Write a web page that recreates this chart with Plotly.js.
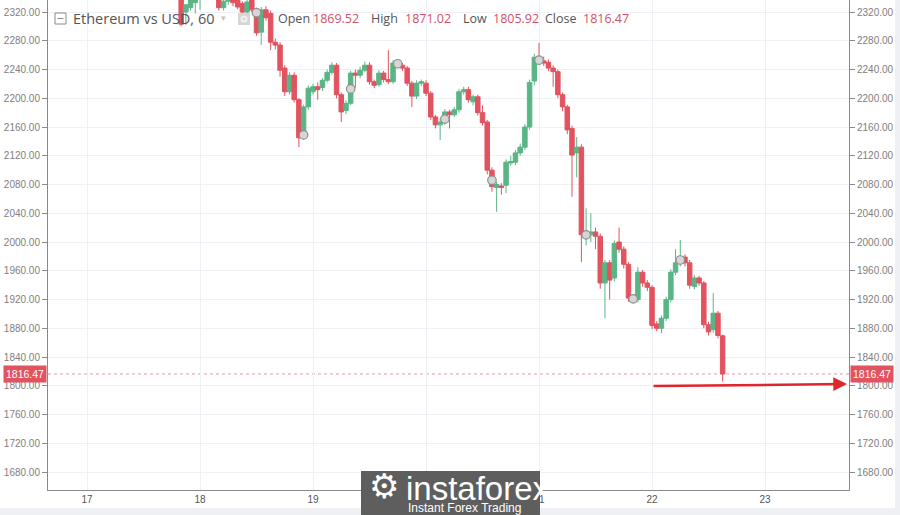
<!DOCTYPE html>
<html><head><meta charset="utf-8">
<script src="https://cdn.plot.ly/plotly-3.0.1.min.js"></script>
<style>html,body{margin:0;padding:0;background:#fff}#chart{width:900px;height:515px}</style>
</head><body><div id="chart"></div>
<script>
// Hourly ETH/USD candles, first candle at 17 Jun 20:00
const startTime = '2021-06-17T20:00:00Z';
const opens  = [2345,2320,2326,2333,2340,2350,2356,2350,2342,2326,2335,2342,2338,2332,2320,2337,2320,2292,2323,2318,
                2278,2274,2242,2209,2232,2198,2149,2188,2209,2216,2215,2225,2236,2246,2205,2183,2193,2235,2232,2239,
                2246,2223,2219,2235,2226,2223,2247,2246,2242,2221,2203,2221,2221,2207,2174,2163,2167,2181,2177,2184,
                2209,2212,2195,2202,2180,2167,2100,2076,2078,2079,2110,2111,2124,2132,2160,2224,2257,2252,2250,2242,
                2237,2205,2188,2158,2124,2132,2010,2010,2014,2008,1943,1971,1950,2000,1990,1969,1922,1920,1958,1943,
                1937,1886,1880,1894,1920,1958,1971,1979,1971,1938,1950,1943,1885,1878,1901,1869.52];
const highs  = [2350,2331,2342,2350,2355,2362,2365,2356,2348,2340,2346,2345,2342,2335,2338,2342,2326,2327,2328,2322,
                2283,2278,2246,2236,2236,2200,2191,2218,2220,2222,2228,2240,2250,2249,2208,2197,2238,2240,2244,2251,
                2250,2226,2239,2238,2267,2253,2254,2249,2245,2224,2225,2226,2225,2210,2177,2172,2185,2184,2188,2213,
                2216,2216,2205,2205,2190,2170,2104,2084,2082,2115,2120,2128,2137,2164,2226,2262,2277,2258,2254,2246,
                2240,2208,2191,2162,2146,2136,2047,2040,2020,2012,1975,1975,2002,2020,1994,1972,1926,1965,1961,1947,
                1940,1890,1898,1924,1962,1990,2003,1983,1975,1954,1953,1946,1889,1929,1904,1871.02];
const lows   = [2300,2302,2322,2318,2323,2343,2347,2338,2322,2322,2330,2328,2324,2316,2317,2320,2287,2274,2308,2267,
                2268,2230,2203,2205,2194,2132,2142,2184,2205,2198,2210,2222,2233,2200,2167,2178,2190,2215,2228,2236,
                2219,2214,2216,2222,2220,2220,2243,2238,2217,2188,2199,2217,2203,2170,2158,2142,2163,2158,2174,2180,
                2205,2194,2190,2176,2162,2094,2070,2042,2066,2068,2106,2107,2120,2128,2156,2218,2246,2245,2238,2216,
                2200,2182,2150,2063,2090,1972,1995,2000,1990,1935,1894,1920,1945,1985,1963,1917,1915,1916,1938,1932,
                1879,1876,1873,1890,1916,1954,1966,1966,1935,1934,1939,1880,1870,1874,1866,1805.92];
const closes = [2303,2330,2338,2345,2350,2356,2350,2342,2326,2335,2342,2333,2327,2320,2334,2323,2291,2323,2312,2278,
                2274,2239,2209,2232,2198,2145,2188,2214,2216,2212,2225,2236,2246,2205,2181,2193,2235,2232,2239,2246,
                2223,2218,2235,2226,2223,2249,2249,2242,2221,2203,2221,2223,2207,2174,2163,2167,2181,2177,2184,2209,
                2212,2198,2202,2180,2166,2100,2077,2080,2076,2111,2112,2124,2132,2160,2222,2257,2250,2249,2242,2237,
                2205,2188,2156,2121,2132,2010,2014,2014,2008,1943,1971,1947,1998,1990,1969,1922,1920,1958,1943,1937,
                1884,1880,1894,1920,1958,1971,1979,1971,1940,1950,1943,1885,1875,1901,1870,1816.47];
// event dots drawn on some candles
const markerIdx   = [16,26,36,46,56,66,76,86,96,106];
const markerPrice = [2319,2149,2213,2248,2171,2086,2253,2010,1921,1975];

const lastPrice = 1816.47;
const titleText = 'Ethereum vs USD, 60';
const ohlcLabels = ['Open','High','Low','Close'];
const ohlcValues = ['1869.52','1871.02','1805.92','1816.47'];
const xRange = ['2021-06-16 15:43','2021-06-23 17:50'];
const yRange = [1655, 2336.7];
const arrowFrom = ['2021-06-22 00:00', 1799.7];
const arrowTo   = ['2021-06-23 17:25', 1802.4];

const fmt = d => d.toISOString().slice(0,16).replace('T',' ');
const t0 = Date.parse(startTime);
const times = opens.map((_, i) => fmt(new Date(t0 + i*3600000)));

const UP = '#5ab586', DOWN = '#e2525f';

// pixel -> paper helpers (plot area: x 48..849, y 0..490)
const L = 48, R = 849, T = 0, B = 490;
const px = x => (x - L) / (R - L);
const py = y => (B - y) / (B - T);

const traces = [
  {type:'candlestick', x: times, open: opens, high: highs, low: lows, close: closes,
   increasing:{line:{color:UP, width:1}, fillcolor:UP},
   decreasing:{line:{color:DOWN, width:1}, fillcolor:DOWN},
   whiskerwidth:0, hoverinfo:'skip'},
  {type:'scatter', mode:'markers', x: markerIdx.map(i => times[i]), y: markerPrice,
   marker:{size:8.5, color:'#d6d6d6', line:{color:'#8f8f8f', width:1.2}}, hoverinfo:'skip'},
  {type:'scatter', mode:'markers', x:[times[0]], y:[2000], yaxis:'y2', marker:{opacity:0}, hoverinfo:'skip'}
];

const tickFont = {family:'Liberation Sans, Arial, sans-serif', size:10, color:'#808080'};
const yCommon = {range: yRange, dtick:40, tick0:0, tickformat:'.2f', showline:true, linecolor:'#8a8a8a',
  linewidth:1, ticks:'outside', ticklen:5, tickcolor:'#8a8a8a', tickfont: tickFont, zeroline:false, fixedrange:true};

const hdrFont = (c, s) => ({family:'Open Sans, sans-serif', size:s, color:c});
const headerY = py(18);
const ohlcLabelX = [276, 369, 461, 543];
const ohlcValueX = [311, 403, 491, 581];

const annotations = [
  {xref:'paper', yref:'paper', x:px(71), y:headerY, xanchor:'left', yanchor:'middle', text:titleText,
   showarrow:false, font:hdrFont('#555', 14.5)},
  {xref:'paper', yref:'paper', x:px(219), y:py(18), xanchor:'left', yanchor:'middle', text:'▾',
   showarrow:false, font:{family:'DejaVu Sans', size:9, color:'#c4c4c4'}},
  // price labels
  {xref:'paper', yref:'y', x:0, y:lastPrice, xanchor:'right', yanchor:'middle', xshift:-1, text:lastPrice.toFixed(2),
   showarrow:false, bgcolor:DOWN, borderpad:2, font:{family:'Liberation Sans, Arial', size:10.5, color:'#fff'}},
  {xref:'paper', yref:'y', x:1, y:lastPrice, xanchor:'left', yanchor:'middle', xshift:1, text:lastPrice.toFixed(2),
   showarrow:false, bgcolor:DOWN, borderpad:2, font:{family:'Liberation Sans, Arial', size:10.5, color:'#fff'}},
  // drawn arrow
  {xref:'x', yref:'y', axref:'x', ayref:'y', x:arrowTo[0], y:arrowTo[1], ax:arrowFrom[0], ay:arrowFrom[1],
   text:'', showarrow:true, arrowhead:2, arrowsize:1.1, arrowwidth:2.5, arrowcolor:'#e0262d', standoff:0},
  // watermark
  {xref:'paper', yref:'paper', x:px(384), y:py(486), xanchor:'center', yanchor:'middle', text:'⚙',
   showarrow:false, font:{family:'DejaVu Sans', size:34, color:'#fff'}},
  {xref:'paper', yref:'paper', x:px(404), y:py(488), xanchor:'left', yanchor:'middle', text:'instaforex',
   showarrow:false, font:{family:'Liberation Sans Narrow, Liberation Sans, sans-serif', size:33, color:'#fff'}},
  {xref:'paper', yref:'paper', x:px(406), y:py(507.5), xanchor:'left', yanchor:'middle', text:'Instant Forex Trading',
   showarrow:false, font:{family:'Liberation Sans Narrow, Liberation Sans, sans-serif', size:12, color:'#fff'}}
];
ohlcLabels.forEach((lab, i) => {
  annotations.push({xref:'paper', yref:'paper', x:px(ohlcLabelX[i]), y:headerY, xanchor:'left', yanchor:'middle',
    text:lab, showarrow:false, font:hdrFont('#555', 12.5)});
  annotations.push({xref:'paper', yref:'paper', x:px(ohlcValueX[i]), y:headerY, xanchor:'left', yanchor:'middle',
    text:ohlcValues[i], showarrow:false, font:hdrFont('#cf5268', 12.5)});
});

const shapes = [
  {type:'line', xref:'paper', yref:'y', x0:0, x1:1, y0:lastPrice, y1:lastPrice,
   line:{color:'#f0939b', width:1, dash:'dot'}, layer:'below'},
  // header box icon
  {type:'rect', xref:'paper', yref:'paper', x0:px(55), x1:px(66), y0:py(24), y1:py(13),
   line:{color:'#8a8a8a', width:1}, fillcolor:'rgba(255,255,255,0)'},
  {type:'line', xref:'paper', yref:'paper', x0:px(57.5), x1:px(63.5), y0:py(18.5), y1:py(18.5),
   line:{color:'#8a8a8a', width:1}},
  // camera icon
  {type:'rect', xref:'paper', yref:'paper', x0:px(238), x1:px(250), y0:py(25), y1:py(13),
   line:{width:0}, fillcolor:'#d6d6d6'},
  {type:'circle', xref:'paper', yref:'paper', x0:px(240.5), x1:px(247.5), y0:py(22.5), y1:py(15.5),
   line:{width:0}, fillcolor:'#f2f2f2'},
  {type:'circle', xref:'paper', yref:'paper', x0:px(242.5), x1:px(245.5), y0:py(20.5), y1:py(17.5),
   line:{width:0}, fillcolor:'#d6d6d6'},
  // page edge bands
  {type:'rect', xref:'paper', yref:'paper', x0:px(0), x1:px(900), y0:py(515), y1:py(508),
   line:{width:0}, fillcolor:'#eef0f4', layer:'below'},
  {type:'rect', xref:'paper', yref:'paper', x0:px(895), x1:px(900), y0:py(515), y1:py(0),
   line:{width:0}, fillcolor:'#eef0f4', layer:'below'},
  // watermark box
  {type:'rect', xref:'paper', yref:'paper', x0:px(361), x1:px(540), y0:py(515), y1:py(471),
   line:{width:0}, fillcolor:'#5e5e5e', layer:'above'}
];

const layout = {
  width:900, height:515,
  margin:{l:L, r:900-R, t:T, b:515-B, pad:0},
  paper_bgcolor:'#fff', plot_bgcolor:'#fff',
  showlegend:false, hovermode:false, dragmode:false,
  boxgap:0.05, boxgroupgap:0,
  xaxis:{type:'date', range:xRange, rangeslider:{visible:false}, tickformat:'%d', dtick:86400000,
    tick0:'2021-06-17', showgrid:true, gridcolor:'#edf0f4', showline:true, linecolor:'#8a8a8a', linewidth:1,
    ticks:'', tickfont:{family:'Liberation Sans, Arial, sans-serif', size:10, color:'#555'}, zeroline:false, fixedrange:true},
  yaxis:Object.assign({side:'left', showgrid:true, gridcolor:'#edf0f4'}, yCommon),
  yaxis2:Object.assign({side:'right', overlaying:'y', showgrid:false}, yCommon),
  annotations, shapes
};

Plotly.newPlot('chart', traces, layout, {displayModeBar:false, staticPlot:true});
</script></body></html>
